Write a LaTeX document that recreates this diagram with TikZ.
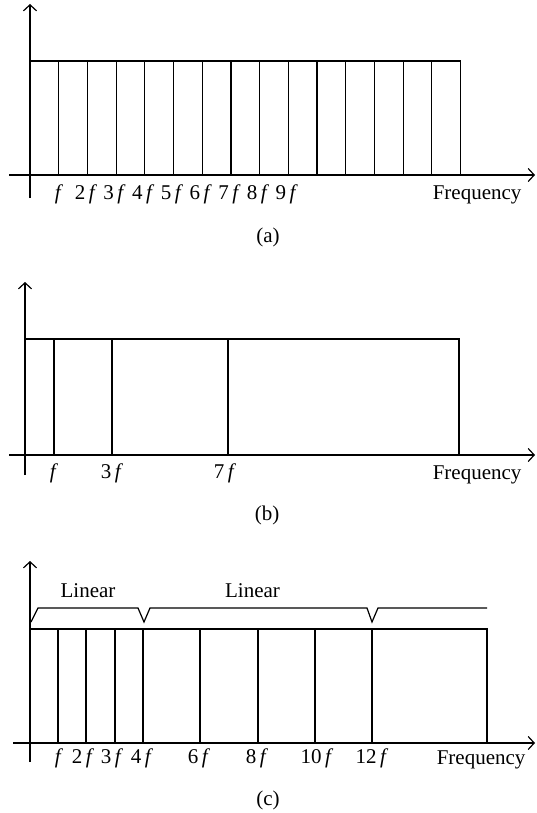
\documentclass[tikz,border=0pt]{standalone}
\usepackage{fontspec}
\setmainfont{Liberation Serif}
\usetikzlibrary{arrows.meta}
\begin{document}
\begin{tikzpicture}[x=1pt,y=-1pt, line width=1.2pt,
  ax/.style={-{Straight Barb[length=6pt,width=13pt,line width=1.2pt]}},
  lbl/.style={font=\fontsize{21}{25}\selectfont, inner sep=0pt, anchor=base},
  captxt/.style={font=\fontsize{21}{25}\selectfont, inner sep=0pt, anchor=base},
]
\useasboundingbox (0,0) rectangle (536,813);
\newcommand{\ff}{\textit{f}}
% ---------- panel (a)
\draw[ax] (30,198) -- (30,4);
\draw[ax] (9,175) -- (535,175);
\draw (30,61) -- (460.5,61) -- (460.5,175);
\foreach \k in {1,...,14} \draw (30+28.7*\k,61) -- (30+28.7*\k,175);
\node[lbl] (a1) at (59,200) {\ff};
\foreach \k in {2,...,9} \node[lbl] (a\k) at (28.5+28.7*\k,200) {\k\,\ff};
\node[lbl,anchor=base east] (afreq) at (522,199) {Frequency};
\node[captxt] (capa) at (268,242) {(a)};
% ---------- panel (b)
\draw[ax] (25,475) -- (25,282);
\draw[ax] (9,455) -- (535,455);
\draw (25,339) -- (459,339) -- (459,455);
\foreach \x in {54,112,228} \draw (\x,339) -- (\x,455);
\node[lbl] (b1) at (54,478) {\ff};
\node[lbl] (b3) at (112,478) {3\,\ff};
\node[lbl] (b7) at (225,478) {7\,\ff};
\node[lbl,anchor=base east] (bfreq) at (522,479) {Frequency};
\node[captxt] (capb) at (267,520) {(b)};
% ---------- panel (c)
\draw[ax] (30,762) -- (30,561);
\draw[ax] (13,743) -- (535,743);
\draw (30,629) -- (487,629) -- (487,743);
\foreach \x in {58,86,115,143,200,258,315,372} \draw (\x,629) -- (\x,743);
\node[lbl] (c1) at (59,763) {\ff};
\node[lbl] (c2) at (83,763) {2\,\ff};
\node[lbl] (c3) at (112,763) {3\,\ff};
\node[lbl] (c4) at (142,763) {4\,\ff};
\node[lbl] (c6) at (199,763) {6\,\ff};
\node[lbl] (c8) at (257,763) {8\,\ff};
\node[lbl] (c10) at (317,763) {10\,\ff};
\node[lbl] (c12) at (372,763) {12\,\ff};
\node[lbl,anchor=base east] (cfreq) at (526,764) {Frequency};
\node[captxt] (capc) at (268,805) {(c)};
% braces
\draw[line width=1.2pt] (31,622) -- (38,608) -- (138,608) -- (144,622) -- (150,608)
  -- (367,608) -- (372,622) -- (378,608) -- (487,608);
\node[lbl] (lin1) at (88,597) {Linear};
\node[lbl] (lin2) at (252.5,597) {Linear};
\end{tikzpicture}
\end{document}
